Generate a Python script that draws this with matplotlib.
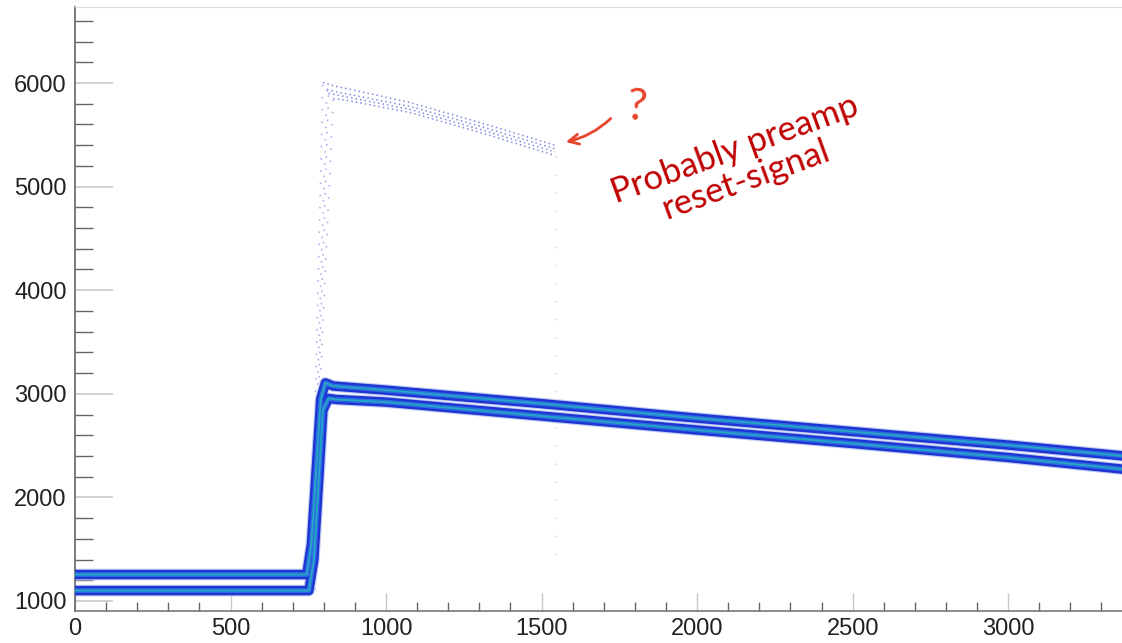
import matplotlib
matplotlib.use('Agg')
import matplotlib.pyplot as plt
from matplotlib.ticker import MultipleLocator

# main pulses (two dense bands of traces)
band_x = [0, 745, 760, 790, 805, 830, 1000, 1500, 2000, 2500, 3000, 3370]
band_hi = [1255, 1255, 1550, 2950, 3105, 3075, 3035, 2905, 2765, 2635, 2505, 2400]
band_lo_x = [0, 752, 768, 797, 815, 840, 1000, 1500, 2000, 2500, 3000, 3370]
band_lo = [1100, 1100, 1400, 2840, 2955, 2945, 2920, 2785, 2650, 2520, 2385, 2272]

# sparse traces ending in the preamp reset
reset_x = [
    [760, 778, 797, 830, 1077, 1300, 1543],
    [765, 783, 810, 840, 1077, 1300, 1543],
    [768, 786, 815, 850, 1077, 1300, 1543],
    [772, 790, 830, 870, 1077, 1300, 1543],
]
reset_y = [
    [1250, 3600, 6005, 5975, 5812, 5620, 5400],
    [1200, 3400, 5940, 5915, 5775, 5585, 5365],
    [1150, 3300, 5900, 5880, 5745, 5555, 5335],
    [1110, 3200, 5850, 5835, 5715, 5525, 5300],
]
drop_x = [1545, 1545]
drop_y = [5300, 1400]

fig = plt.figure(figsize=(11.22, 6.43), dpi=100)
ax = fig.add_axes([75 / 1122, 32 / 643, 1047 / 1122, 604 / 643])

bands = [(band_x, band_hi), (band_lo_x, band_lo)]
# halo under both bands first so the white gap between them stays
for xs, ys in bands:
    ax.plot(xs, ys, color='#c3cbf3', lw=8.4, solid_capstyle='butt', zorder=2)
for xs, ys in bands:
    ax.plot(xs, ys, color='#1b36d2', lw=6.8, solid_capstyle='butt', zorder=3)
    ax.plot(xs, ys, color='#2f6be2', lw=3.4, solid_capstyle='butt', zorder=4)
    ax.plot(xs, ys, color='#22a8c4', lw=1.3, solid_capstyle='butt', zorder=5)

# sparse upper traces: rise is very sparse, the top part denser
for xs, ys in zip(reset_x, reset_y):
    ax.plot(xs[:3], ys[:3], color='#6070e0', lw=1.1, ls=(0, (1, 7)),
            alpha=0.6, zorder=1)
    ax.plot(xs[2:], ys[2:], color='#4a5cdc', lw=1.1, ls=(0, (1, 2)),
            alpha=0.7, zorder=1)
ax.plot(drop_x, drop_y, color='#9aa6ee', lw=1, ls=(0, (1, 12)), alpha=0.6, zorder=1)

# annotation
ax.text(1805, 5760, '?', color='#e8452c', fontsize=32, family='Lato',
        rotation=-5, ha='center', va='center')
ax.annotate('', xy=(1569, 5425), xytext=(1729, 5676),
            arrowprops=dict(arrowstyle='->', color='#e8452c', lw=2,
                            connectionstyle='arc3,rad=-0.15', mutation_scale=18))
ax.text(2140, 5213, 'Probably preamp\nreset-signal', color='#c00000',
        fontsize=25, family='Lato', rotation=20, ha='center', va='center',
        multialignment='center', linespacing=1.0, rotation_mode='anchor')

ax.set_xlim(0, 3366)
ax.set_ylim(903, 6734)
ax.xaxis.set_major_locator(MultipleLocator(500))
ax.xaxis.set_minor_locator(MultipleLocator(100))
ax.yaxis.set_major_locator(MultipleLocator(1000))
ax.yaxis.set_minor_locator(MultipleLocator(200))

ax.tick_params(axis='x', which='major', direction='in', length=13, width=1,
               color='#c8c8c8', labelsize=17, pad=5, labelcolor='#222222')
ax.tick_params(axis='x', which='minor', direction='in', length=6.5, width=1,
               color='#666666')
ax.tick_params(axis='y', which='major', direction='in', length=27, width=1.2,
               color='#c8c8c8', labelsize=17, pad=6, labelcolor='#222222')
ax.tick_params(axis='y', which='minor', direction='in', length=13, width=1,
               color='#666666')
for lab in ax.get_xticklabels() + ax.get_yticklabels():
    lab.set_family('Liberation Sans')

ax.spines['left'].set_color('#666666')
ax.spines['bottom'].set_color('#777777')
ax.spines['left'].set_linewidth(1.2)
ax.spines['bottom'].set_linewidth(1.2)
ax.spines['top'].set_color('#dddddd')
ax.spines['right'].set_visible(False)

fig.savefig('out.png', dpi=100)
